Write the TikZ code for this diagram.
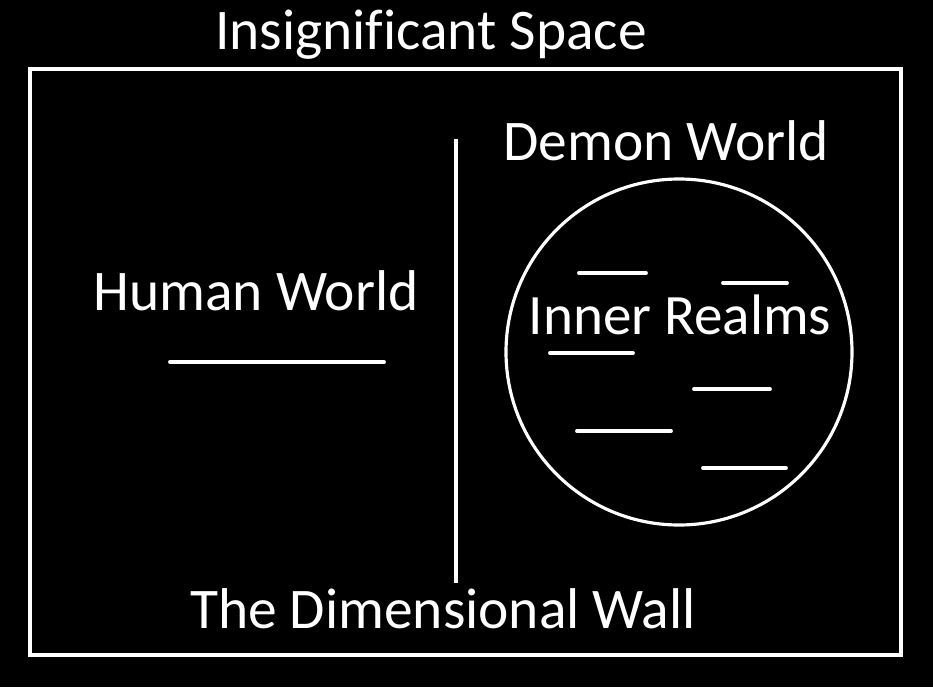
\documentclass[tikz,border=0pt]{standalone}
\usepackage{fontspec}
\setmainfont[Ligatures=NoCommon]{Carlito}
\usetikzlibrary{positioning}

\begin{document}
\begin{tikzpicture}[x=0.02cm, y=-0.02cm, white,
    label/.style={text=white, inner sep=0pt, anchor=base, font=\fontsize{32.7}{38}\selectfont},
    bar/.style={line width=2.2pt, line cap=round}]
      % Background
      \fill[black] (0,0) rectangle (933,687);
      \useasboundingbox (0,0) rectangle (933,687);

      % Frame and wall
      \draw[line width=1.8pt] (30,69) rectangle (901,655);
      \coordinate (wtop) at (456,139);
      \coordinate (wbot) at (456,583);
      \draw[line width=1.8pt] (wtop) -- (wbot);

      % Nodes
      \node[label] (space) at (431,49)  {Insignificant Space};
      \node[label] (human) at (256,310) {Human World};
      \node[label] (demon) at (666,160) {Demon World};
      \node[label, font=\fontsize{32.5}{38}\selectfont] (inner) at (680,334) {Inner Realms};
      \node[label] (wall)  at (443,628) {The Dimensional Wall};

      % Inner realms circle
      \draw[line width=1.8pt] (679,352) circle (173);

      % Bars
      \draw[bar] (170,362) -- (384,362);
      \draw[bar] (579,273) -- (646,273);
      \draw[bar] (723,283) -- (787,283);
      \draw[bar] (550,353) -- (633,353);
      \draw[bar] (694,389) -- (770,389);
      \draw[bar] (577,431) -- (671,431);
      \draw[bar] (703,468) -- (786,468);
\end{tikzpicture}
\end{document}
